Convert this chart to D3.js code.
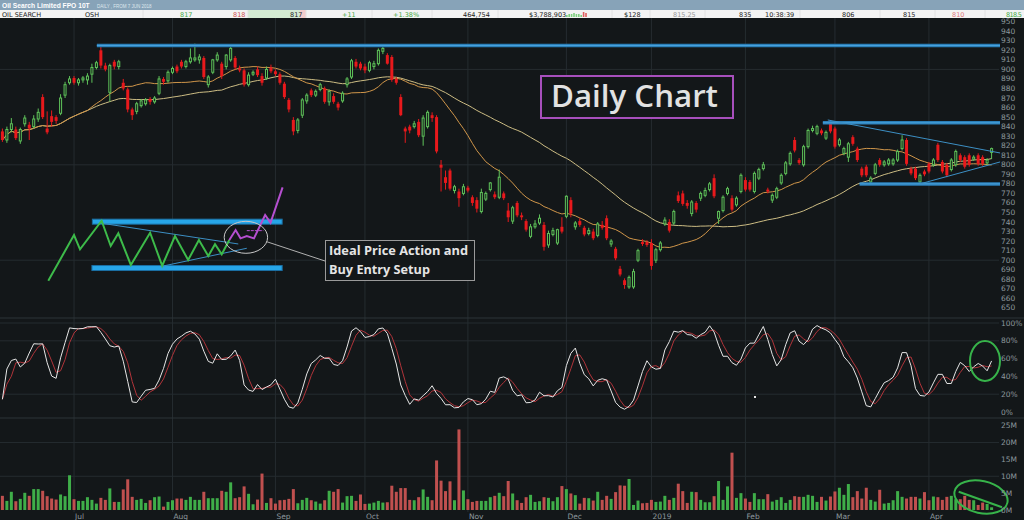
<!DOCTYPE html>
<html>
<head>
<meta charset="utf-8">
<script src="https://cdn.jsdelivr.net/npm/d3@7"></script>
<style>
html, body { margin: 0; padding: 0; background: #131719; }
svg { display: block; font-family: "DejaVu Sans", sans-serif; }
</style>
</head>
<body>
<div id="chart"></div>
<script>
/* DATA */
const startDate = "2018-06-07";
const holidays = ["2018-06-11", "2018-12-25", "2018-12-26", "2019-01-01", "2019-01-28"];

const openP = [835,826,837,837,825,843,842,840,848,871,838,851,850,854,873,886,
  891,886,889,889,895,902,920,904,876,908,903,886,879,858,856,862,864,869,866,875,890,888,
  897,903,908,903,908,910,910,912,884,897,910,906,903,910,912,901,899,884,895,900,893,891,902,
  898,895,885,868,847,836,852,867,878,873,879,880,866,872,864,867,884,892,908,906,
  903,899,903,906,919,915,913,890,871,838,840,840,845,830,840,852,850,800,787,794,773,772,770,
  776,766,763,751,764,774,769,766,770,752,
  741,760,747,741,725,735,739,737,716,727,718,735,
  746,763,735,741,734,728,730,726,737,744,717,712,691,679,672,672,700,719,719,
  718,700,711,738,740,739,768,770,760,749,760,765,768,774,786,744,752,770,765,758,772,
  784,782,772,786,796,774,763,766,781,791,801,826,805,800,819,836,833,836,828,843,
  838,821,812,808,829,817,796,798,782,791,805,800,801,801,805,817,826,796,796,782,793,
  801,800,821,803,800,795,800,810,808,810,806,810,808,802,813];
const highP = [838,840,849,840,839,852,845,852,859,874,856,857,852,874,887,893,
  893,891,893,896,906,909,926,907,906,910,910,890,881,860,866,869,870,871,872,893,892,899,
  903,905,910,910,922,927,916,914,894,911,918,908,916,925,914,904,901,897,899,903,896,903,905,
  900,897,887,870,850,849,870,875,880,879,886,882,879,875,866,877,892,911,911,908,
  906,909,909,922,925,917,915,892,874,840,842,846,848,852,857,855,852,805,794,796,779,775,780,
  778,768,766,775,772,782,772,795,772,760,
  757,762,750,743,738,742,748,740,731,734,733,745,
  768,766,741,744,736,734,733,740,741,747,722,714,694,681,684,691,712,722,721,
  722,713,720,745,743,753,772,773,763,763,762,772,776,782,790,752,768,777,768,767,791,
  787,784,793,797,803,776,770,777,791,804,814,829,807,821,838,841,842,838,836,846,
  840,828,819,824,831,819,798,800,788,802,807,805,807,807,816,831,828,798,798,791,795,
  803,807,823,805,802,807,816,812,810,812,810,812,810,807,818];
const lowP = [824,823,834,826,822,840,826,838,845,848,832,840,843,852,870,884,
  884,883,886,884,886,900,901,898,866,900,900,878,855,847,853,860,862,863,864,873,884,886,
  895,896,901,901,906,908,906,890,881,895,908,890,900,908,900,897,882,882,893,892,883,889,896,
  893,884,869,855,831,833,849,864,871,871,877,864,862,864,857,865,881,890,901,899,
  896,897,900,904,916,905,887,884,851,823,833,838,829,820,838,845,812,772,774,773,770,756,768,
  771,757,750,749,762,772,764,764,763,740,
  738,745,742,730,723,733,737,710,713,725,716,728,
  744,745,732,735,725,726,721,724,732,721,714,700,683,670,670,670,698,715,714,
  690,697,709,736,729,737,760,757,754,746,750,762,766,772,765,738,750,768,751,756,770,
  772,772,770,784,794,770,760,764,779,789,799,813,800,798,817,834,831,831,826,833,
  817,819,810,803,820,803,787,787,779,789,798,798,799,799,803,815,799,789,784,779,788,
  791,798,803,791,787,793,798,803,796,798,804,799,799,800,806];
const closeP = [826,837,843,828,837,849,838,848,855,850,834,845,846,870,884,890,
  886,889,891,893,902,907,904,900,904,903,908,880,858,852,864,867,868,866,870,890,887,897,
  901,898,903,908,912,912,913,892,892,910,915,893,915,922,902,899,884,894,897,894,886,900,898,
  895,886,871,858,835,847,868,873,873,877,884,866,877,866,860,875,890,909,903,901,
  899,907,906,920,922,906,889,886,852,835,836,843,831,849,855,849,814,797,781,775,777,765,777,
  773,760,754,771,770,781,766,787,765,745,
  755,747,745,732,735,738,744,714,728,731,732,730,
  767,749,739,737,727,731,723,738,734,723,720,702,685,674,682,688,710,717,716,
  694,711,718,742,731,751,762,759,757,761,753,770,773,780,767,751,766,775,753,765,789,
  774,774,791,795,800,772,768,775,789,802,812,815,802,819,836,838,840,833,834,835,
  819,826,817,822,822,805,789,789,786,800,800,803,805,805,814,826,801,791,786,789,790,
  793,805,805,793,789,805,814,805,798,800,808,801,801,805,817];
const volumeM = [4.2,2.7,5.4,2.6,3.3,5.1,4.2,6.2,6.2,5.7,4.1,3.4,3.1,4.6,4.1,10.3,
  3.2,2.7,2.7,3.8,3.0,1.9,3.6,3.0,6.4,2.4,2.4,6.1,9.1,3.9,3.0,3.3,2.1,2.9,3.8,4.0,1.0,2.4,
  2.9,3.4,3.4,3.0,3.9,3.0,3.0,5.4,3.5,3.5,3.5,5.7,5.4,8.2,3.5,3.8,7.0,4.8,1.7,3.1,10.8,2.1,3.5,
  1.9,2.9,3.0,3.3,6.2,2.0,3.0,3.6,2.9,2.5,1.9,2.9,5.7,5.4,6.2,2.2,4.1,4.2,2.7,4.6,
  1.8,1.9,2.2,2.7,2.2,2.3,7.2,5.4,6.5,6.5,3.0,2.9,3.8,6.1,3.9,2.9,14.7,8.7,5.6,8.5,2.9,23.9,5.8,
  3.2,2.4,2.7,2.7,2.7,3.8,4.2,5.1,4.1,8.6,
  4.9,2.9,2.1,3.8,4.5,2.4,2.6,3.8,3.6,2.6,3.8,7.1,
  6.2,4.9,4.4,1.9,3.6,3.5,2.8,5.4,3.0,4.2,3.3,5.3,7.3,7.2,9.2,1.5,2.8,2.0,2.1,
  3.0,2.4,2.5,4.2,3.0,3.6,7.8,5.6,2.1,5.4,5.3,3.0,2.3,2.3,4.1,8.6,3.0,7.0,17.0,3.6,5.0,
  3.4,2.4,5.0,3.2,3.2,4.7,2.5,3.0,3.8,2.1,3.0,4.1,3.9,3.9,4.5,4.2,2.4,3.9,2.8,4.0,
  5.5,6.6,4.5,7.7,3.8,5.6,3.4,6.6,3.0,2.5,6.0,1.9,2.1,2.9,5.6,3.9,3.4,3.9,3.9,3.4,5.3,
  2.9,4.0,3.8,3.0,3.9,4.2,3.2,3.2,4.2,3.0,2.9,1.5,2.2,1.8,0.8];

const priceTicks = d3.range(650, 951, 10);
const priceGrid = [700, 800, 900];
const stochTicks = [0, 20, 40, 60, 80, 100];
const stochGrid = [20, 80, 100];
const volTicks = [0, 5, 10, 15, 20, 25];
const volGrid = [10, 20];
const maPeriods = [20, 50];

/* drawn annotations, in (day index, price) */
const levelLines = [[21.1, 925], [183.3, 844], [191.5, 780]];
const triangle = [[[184.4, 847], [222.9, 812.4]], [[205, 780], [222.9, 803]]];
const idealGreen = [[10.25,678.5],[16.0,726.4],[17.34,711.4],[22.17,741.4],[24.2,714.9],[25.9,728.2],
  [28.7,695],[33.0,728.8],[35.7,694.2],[38.56,725.3],[41.5,700.2],[43.9,721.1],[46.0,704.4],
  [47.5,716.7],[49.0,706.2],[50.7,721.1]];
const idealPurple = [[50.7,721.1],[52.1,731.6],[53.2,722.9],[54.6,725.3],[56.2,722.9],[58.7,747.4],
  [59.9,739.3],[62.6,776.4]];
const idealBands = [[20.1, 62.5, 740.4], [20.0, 62.5, 691.8]];
const idealThin = [[[22.2, 738.7], [52.7, 717]], [[35.9, 693.9], [54.6, 712.5]]];

/* CONSTANTS */
const W = 1024, H = 520, plotRight = 999;
const bg = "#131719", grid = "#252c30", axisText = "#8d979d";
const upC = "#5fc35a", downC = "#e8191c";

const parse = d3.utcParse("%Y-%m-%d"), fmt = d3.utcFormat("%Y-%m-%d");
const dates = [];
for (let d = parse(startDate); dates.length < closeP.length; d = d3.utcDay.offset(d, 1)) {
  const wd = d.getUTCDay();
  if (wd !== 0 && wd !== 6 && !holidays.includes(fmt(d))) dates.push(d);
}
const n = closeP.length;
const bars = d3.range(n).map(i => ({i, o: openP[i], h: highP[i], l: lowP[i], c: closeP[i], v: volumeM[i]}));

// indicators from the prices
function sma(arr, p) {
  return arr.map((v, i) => d3.mean(arr.slice(Math.max(0, i - p + 1), i + 1)));
}
const mas = maPeriods.map(p => sma(closeP, p));
const rawK = bars.map((b, i) => {
  const from = Math.max(0, i - 13);
  const lo = d3.min(lowP.slice(from, i + 1)), hi = d3.max(highP.slice(from, i + 1));
  return hi === lo ? 50 : (b.c - lo) / (hi - lo) * 100;
});
const kLine = sma(rawK, 3), dLine = sma(kLine, 3);

/* SCALES */
const x = d3.scaleLinear().domain([0, n - 1]).range([2.4, 991.6]);
const yP = d3.scaleLinear().domain([650, 950]).range([307.9, 21.7]);
const yS = d3.scaleLinear().domain([0, 100]).range([412, 323]);
const yV = d3.scaleLinear().domain([0, 25]).range([510, 425.7]);

const svg = d3.select("#chart").append("svg").attr("width", W).attr("height", H);
svg.append("rect").attr("width", W).attr("height", H).attr("fill", bg);

const defs = svg.append("defs");
defs.append("clipPath").attr("id", "pclip").append("rect")
  .attr("x", 0).attr("y", 18).attr("width", plotRight).attr("height", 300);

/* GRID */
const monthStarts = d3.range(1, n).filter(i => dates[i].getUTCMonth() !== dates[i - 1].getUTCMonth());
svg.append("g").selectAll("line").data(monthStarts).join("line")
  .attr("x1", i => x(i)).attr("x2", i => x(i)).attr("y1", 18).attr("y2", 512)
  .attr("stroke", grid).attr("stroke-width", 1);
svg.append("g").selectAll("line").data(priceGrid).join("line")
  .attr("x1", 0).attr("x2", plotRight).attr("y1", d => yP(d)).attr("y2", d => yP(d))
  .attr("stroke", grid);
svg.append("g").selectAll("line").data(stochGrid).join("line")
  .attr("x1", 0).attr("x2", plotRight).attr("y1", d => yS(d)).attr("y2", d => yS(d))
  .attr("stroke", grid);
svg.append("g").selectAll("line").data(volGrid).join("line")
  .attr("x1", 0).attr("x2", plotRight).attr("y1", d => yV(d)).attr("y2", d => yV(d))
  .attr("stroke", grid);
[318, 418].forEach(yy => svg.append("line").attr("x1", 0).attr("x2", W).attr("y1", yy).attr("y2", yy)
  .attr("stroke", "#2c3439"));

/* PRICE PANEL */
const pg = svg.append("g").attr("clip-path", "url(#pclip)");
const line = d3.line().x((d, i) => x(i)).y(d => yP(d));
pg.append("path").datum(mas[1]).attr("d", line).attr("fill", "none").attr("stroke", "#cdbd84").attr("stroke-width", 1);
pg.append("path").datum(mas[0]).attr("d", line).attr("fill", "none").attr("stroke", "#d0964a").attr("stroke-width", 1);

const cg = pg.append("g");
cg.selectAll("line").data(bars).join("line")
  .attr("x1", d => x(d.i)).attr("x2", d => x(d.i))
  .attr("y1", d => yP(d.h)).attr("y2", d => yP(d.l))
  .attr("stroke", d => d.c >= d.o ? upC : downC).attr("stroke-width", 1);
cg.selectAll("rect").data(bars).join("rect")
  .attr("x", d => d.c >= d.o ? x(d.i) - 1 : x(d.i) - 1.5)
  .attr("width", d => d.c >= d.o ? 2 : 3)
  .attr("y", d => yP(Math.max(d.o, d.c)))
  .attr("height", d => Math.max(1, Math.abs(yP(d.o) - yP(d.c))))
  .attr("fill", d => d.c >= d.o ? bg : downC)
  .attr("stroke", d => d.c >= d.o ? upC : "none").attr("stroke-width", 1);

// level and triangle lines
const ag = svg.append("g");
levelLines.forEach(([i0, p]) => {
  ag.append("line").attr("x1", x(i0)).attr("x2", plotRight + 1).attr("y1", yP(p)).attr("y2", yP(p))
    .attr("stroke", "#2b7fb8").attr("stroke-width", 3.5);
  ag.append("line").attr("x1", x(i0)).attr("x2", plotRight + 1).attr("y1", yP(p)).attr("y2", yP(p))
    .attr("stroke", "#4aa3de").attr("stroke-width", 1);
});
triangle.forEach(seg => ag.append("line")
  .attr("x1", x(seg[0][0])).attr("y1", yP(seg[0][1])).attr("x2", x(seg[1][0])).attr("y2", yP(seg[1][1]))
  .attr("stroke", "#3c8fc4").attr("stroke-width", 1));

// ideal price action sketch
idealBands.forEach(([i0, i1, p]) => {
  ag.append("rect").attr("x", x(i0)).attr("y", yP(p) - 2.5).attr("width", x(i1) - x(i0)).attr("height", 5)
    .attr("fill", "#27a6e8").attr("stroke", "#1b6fa3").attr("stroke-width", 1);
});
idealThin.forEach(seg => ag.append("line")
  .attr("x1", x(seg[0][0])).attr("y1", yP(seg[0][1])).attr("x2", x(seg[1][0])).attr("y2", yP(seg[1][1]))
  .attr("stroke", "#3c8fc4").attr("stroke-width", 1));
const sketch = d3.line().x(d => x(d[0])).y(d => yP(d[1]));
ag.append("path").datum(idealGreen).attr("d", sketch).attr("fill", "none")
  .attr("stroke", "#3dbb4a").attr("stroke-width", 2).attr("stroke-linejoin", "miter");
ag.append("path").datum(idealPurple).attr("d", sketch).attr("fill", "none")
  .attr("stroke", "#b54fd0").attr("stroke-width", 2);
ag.append("line").attr("x1", x(54.6)).attr("x2", x(58.3)).attr("y1", yP(731)).attr("y2", yP(731))
  .attr("stroke", "#b54fd0").attr("stroke-width", 1).attr("stroke-dasharray", "3,1");
ag.append("ellipse").attr("cx", x(54.4)).attr("cy", yP(724)).attr("rx", 21.7).attr("ry", 16)
  .attr("fill", "none").attr("stroke", "#c8c8c8").attr("stroke-width", 1);
ag.append("line").attr("x1", 266.7).attr("y1", 241.7).attr("x2", 325).attr("y2", 261)
  .attr("stroke", "#b0b0b0").attr("stroke-width", 1);
ag.append("rect").attr("x", 325.5).attr("y", 240.5).attr("width", 149).attr("height", 40)
  .attr("fill", bg).attr("stroke", "#9a9a9a").attr("stroke-width", 1);
ag.append("text").attr("x", 329).attr("y", 255).attr("fill", "#e4e4e4")
  .attr("font-family", "Open Sans, sans-serif").attr("font-weight", "bold").attr("font-size", 13)
  .attr("textLength", 139).attr("lengthAdjust", "spacingAndGlyphs").text("Ideal Price Action and");
ag.append("text").attr("x", 329).attr("y", 274).attr("fill", "#e4e4e4")
  .attr("font-family", "Open Sans, sans-serif").attr("font-weight", "bold").attr("font-size", 13)
  .attr("textLength", 101).attr("lengthAdjust", "spacingAndGlyphs").text("Buy Entry Setup");

// Daily chart title box
ag.append("rect").attr("x", 541).attr("y", 76).attr("width", 192).attr("height", 42)
  .attr("fill", bg).attr("stroke", "#a74fbc").attr("stroke-width", 2);
ag.append("text").attr("x", 551).attr("y", 107).attr("fill", "#e2e2e2")
  .attr("font-family", "Open Sans, sans-serif").attr("font-weight", "600").attr("font-size", 31)
  .attr("textLength", 167).attr("lengthAdjust", "spacingAndGlyphs").text("Daily Chart");

/* STOCHASTIC PANEL */
const sline = d3.line().x((d, i) => x(i)).y(d => yS(d));
svg.append("path").datum(dLine).attr("d", sline).attr("fill", "none").attr("stroke", "#b0343a").attr("stroke-width", 1);
svg.append("path").datum(kLine).attr("d", sline).attr("fill", "none").attr("stroke", "#e6e6e6").attr("stroke-width", 1);
svg.append("rect").attr("x", 754).attr("y", 396).attr("width", 2).attr("height", 2).attr("fill", "#e6e6e6");
svg.append("ellipse").attr("cx", 985).attr("cy", 361).attr("rx", 15).attr("ry", 20)
  .attr("fill", "none").attr("stroke", "#37b34a").attr("stroke-width", 2);

/* VOLUME PANEL */
svg.append("g").selectAll("rect").data(bars).join("rect")
  .attr("x", d => x(d.i) - 1.5).attr("width", 3)
  .attr("y", d => yV(d.v)).attr("height", d => yV(0) - yV(d.v))
  .attr("fill", d => d.c >= d.o ? "#3fae49" : "#c0504f");
svg.append("ellipse").attr("cx", 981).attr("cy", 497).attr("rx", 27).attr("ry", 16)
  .attr("transform", "rotate(12,981,497)")
  .attr("fill", "none").attr("stroke", "#37b34a").attr("stroke-width", 2);
svg.append("line").attr("x1", 958.7).attr("y1", 491.7).attr("x2", 1002).attr("y2", 507.3)
  .attr("stroke", "#37b34a").attr("stroke-width", 2);

/* AXES */
const axisFont = 7.5;
svg.append("g").selectAll("text").data(priceTicks).join("text")
  .attr("x", 1001).attr("y", d => yP(d) + 2.5).attr("fill", axisText).attr("font-size", axisFont)
  .text(d => d);
svg.append("g").selectAll("text").data(stochTicks).join("text")
  .attr("x", 1001).attr("y", d => yS(d) + 2.5).attr("fill", axisText).attr("font-size", axisFont)
  .text(d => d + "%");
svg.append("g").selectAll("text").data(volTicks).join("text")
  .attr("x", 1001).attr("y", d => yV(d) + 2.5).attr("fill", axisText).attr("font-size", axisFont)
  .text(d => d + "M");
svg.append("g").selectAll("text").data(monthStarts).join("text")
  .attr("x", i => x(i) + 1).attr("y", 519).attr("fill", axisText).attr("font-size", axisFont)
  .text(i => dates[i].getUTCMonth() === 0 ? d3.utcFormat("%Y")(dates[i]) : d3.utcFormat("%b")(dates[i]));

/* HEADER */
svg.append("rect").attr("x", 0).attr("y", 0).attr("width", W).attr("height", 10).attr("fill", "#87a3b8");
svg.append("rect").attr("x", 0).attr("y", 10).attr("width", W).attr("height", 8).attr("fill", "#f3f3f3");
svg.append("text").attr("x", 2).attr("y", 8).attr("fill", "#ffffff").attr("font-weight", "bold")
  .attr("font-family", "Liberation Sans, Arial, sans-serif").attr("font-size", 6.7)
  .text("Oil Search Limited FPO 10T");
svg.append("text").attr("x", 97).attr("y", 7.5).attr("fill", "#dfe8ee").attr("font-size", 4.5)
  .attr("font-family", "Liberation Sans, Arial, sans-serif")
  .text("DAILY , FROM 7 JUN 2018");
svg.append("rect").attr("x", 248).attr("y", 10).attr("width", 52).attr("height", 8).attr("fill", "#d4ebd3");
svg.append("rect").attr("x", 300).attr("y", 10).attr("width", 6).attr("height", 8).attr("fill", "#f2cccc");
[143, 248, 306, 372, 432, 498, 612, 650, 705, 750, 800, 880, 935, 985].forEach(xx =>
  svg.append("line").attr("x1", xx).attr("x2", xx).attr("y1", 10).attr("y2", 18).attr("stroke", "#e2e2e2"));
const headerCells = [
  ["OIL SEARCH", 2, "#222"], ["OSH", 85, "#222"], ["817", 180, "#45a845"], ["818", 233, "#d05050"],
  ["817", 290, "#222"], ["+11", 342, "#45a845"], ["+1.38%", 393, "#45a845"], ["464,754", 463, "#222"],
  ["$3,788,903", 529, "#222"], ["$128", 624, "#222"], ["815.25", 673, "#999"], ["835", 739, "#222"],
  ["10:38:39", 765, "#222"], ["806", 842, "#222"], ["815", 903, "#222"], ["810", 952, "#e07a7a"],
  ["818.5", 1006, "#45a845"]
];
svg.append("g").selectAll("text").data(headerCells).join("text")
  .attr("x", d => d[1]).attr("y", 16.5).attr("fill", d => d[2]).attr("font-size", 6.5)
  .attr("textLength", d => d[0] === "818.5" ? 16 : null).text(d => d[0]);
const miniBars = [2, 3, 3, 4, 3, 3, 2, 5, 4];
svg.append("g").selectAll("rect").data(miniBars).join("rect")
  .attr("x", (d, i) => 566 + i * 2.4).attr("y", d => 17 - d).attr("width", 1.6).attr("height", d => d)
  .attr("fill", (d, i) => i < 7 ? "#7fcf7f" : "#e06060");
</script>
</body>
</html>
